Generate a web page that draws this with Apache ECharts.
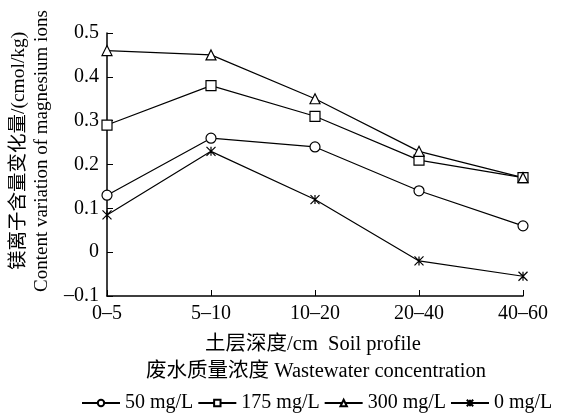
<!DOCTYPE html>
<html>
<head>
<meta charset="utf-8">
<script src="https://cdn.jsdelivr.net/npm/echarts@6/dist/echarts.min.js"></script>
<style>
  html, body { margin: 0; padding: 0; background: #fff; }
  #chart { width: 562px; height: 419px; }
</style>
</head>
<body>
<div id="chart"></div>
<script>
// 土层深度
const depths = ['0-5', '5-10', '10-20', '20-40', '40-60'];
const names = ['50 mg/L', '175 mg/L', '300 mg/L', '0 mg/L'];
const c50 = [0.13, 0.26, 0.24, 0.14, 0.06];
const c175 = [0.29, 0.38, 0.31, 0.21, 0.17];
const c300 = [0.46, 0.45, 0.35, 0.23, 0.17];
const c0 = [0.085, 0.23, 0.12, -0.02, -0.055];
const yTicks = [-0.1, 0, 0.1, 0.2, 0.3, 0.4, 0.5];

const serif = '"Liberation Serif", "Noto Sans CJK SC", serif';
const star = 'path://M0,0L10,10M10,0L0,10M5,0L5,10';

const chart = echarts.init(document.getElementById('chart'));

function mk(name, data, symbol, size) {
  return {
    name,
    type: 'line',
    data,
    symbol,
    symbolSize: size,
    showSymbol: true,
    lineStyle: { color: '#000', width: 1.2 },
    itemStyle: { color: '#fff', borderColor: '#000', borderWidth: 1.2 },
    emphasis: { disabled: true },
  };
}

chart.setOption({
  animation: false,
  textStyle: { fontFamily: serif },
  grid: { left: 107, right: 39, top: 33, bottom: 123, containLabel: false },
  xAxis: {
    type: 'category',
    data: depths,
    boundaryGap: false,
    axisLine: { onZero: false, lineStyle: { color: '#000', width: 1.5 } },
    axisTick: { inside: true, length: 6, lineStyle: { color: '#000' } },
    axisLabel: {
      color: '#000', fontSize: 20, fontFamily: serif, margin: 8,
      formatter: v => v.replace('-', '–'),
    },
  },
  yAxis: {
    type: 'value',
    min: yTicks[0],
    max: yTicks[yTicks.length - 1],
    interval: 0.1,
    axisLine: { show: true, lineStyle: { color: '#000', width: 1.5 } },
    axisTick: { show: true, inside: true, length: 6, lineStyle: { color: '#000' } },
    splitLine: { show: false },
    axisLabel: {
      color: '#000', fontSize: 20, fontFamily: serif, margin: 8,
      formatter: v => {
        const r = Math.round(v * 10) / 10;
        if (r === 0) return '0';
        return r < 0 ? '–' + Math.abs(r) : String(r);
      },
    },
  },
  legend: {
    data: names,
    bottom: 1,
    left: 76,
    itemGap: 4,
    itemWidth: 38,
    itemHeight: 8,
    textStyle: { color: '#000', fontSize: 20, fontFamily: serif },
  },
  graphic: [
    {
      type: 'text', x: 313, y: 345,
      style: { text: '土层深度/cm  Soil profile', fill: '#000', font: '20.5px ' + serif,
        align: 'center', verticalAlign: 'middle' },
    },
    {
      type: 'text', x: 316, y: 372,
      style: { text: '废水质量浓度 Wastewater concentration', fill: '#000', font: '20.5px ' + serif,
        align: 'center', verticalAlign: 'middle' },
    },
    {
      type: 'text', rotation: Math.PI / 2, x: 9, y: 270,
      style: { text: '镁离子含量变化量/(cmol/kg)', fill: '#000', font: '19.5px ' + serif,
        align: 'left', verticalAlign: 'top' },
    },
    {
      type: 'text', rotation: Math.PI / 2, x: 33, y: 292,
      style: { text: 'Content variation of magnesium ions', fill: '#000', font: '19px ' + serif,
        align: 'left', verticalAlign: 'top' },
    },
  ],
  series: [
    mk(names[0], c50, 'circle', 10),
    mk(names[1], c175, 'rect', 10),
    mk(names[2], c300, 'triangle', 10),
    mk(names[3], c0, star, 9),
  ],
});
</script>
</body>
</html>
